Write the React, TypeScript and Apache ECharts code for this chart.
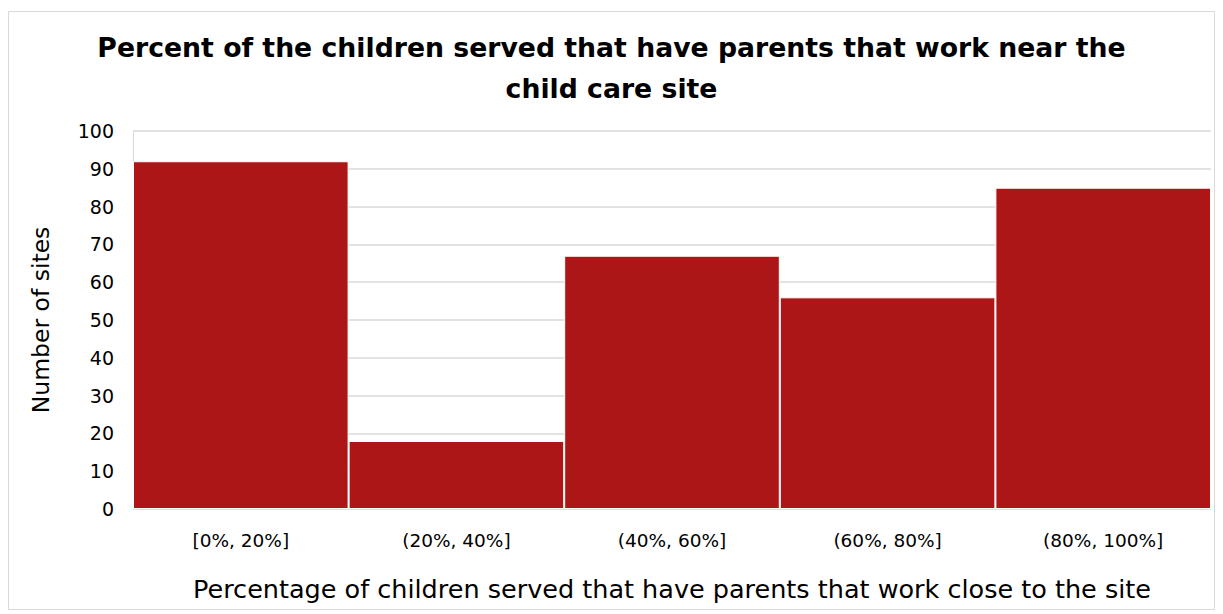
import React, { useEffect, useRef } from "react";
import * as echarts from "echarts";

const categories = ["[0%, 20%]", "(20%, 40%]", "(40%, 60%]", "(60%, 80%]", "(80%, 100%]"];
const siteCounts = [92, 18, 67, 56, 85];
const titleText = "Percent of the children served that have parents that work near the\nchild care site";
const xAxisName = "Percentage of children served that have parents that work close to the site";
const yAxisName = "Number of sites";

const FONT = "'DejaVu Sans', sans-serif";

export default function App() {
  const ref = useRef<HTMLDivElement>(null);
  useEffect(() => {
    document.body.style.margin = "0";
    const chart = echarts.init(ref.current!, null, { renderer: "svg" });
    chart.setOption({
      animation: false,
      backgroundColor: "#ffffff",
      graphic: [
        {
          type: "rect",
          shape: { x: 8.5, y: 11.5, width: 1206, height: 598 },
          style: { fill: "none", stroke: "#d9d9d9", lineWidth: 1 },
          silent: true,
        },
      ],
      title: {
        text: titleText,
        left: "center",
        top: 22,
        textStyle: { fontFamily: FONT, fontWeight: "bold", fontSize: 26.7, color: "#000", lineHeight: 41 },
      },
      grid: { left: 133, right: 12, top: 131, bottom: 105, outerBoundsMode: "none", containLabel: false },
      xAxis: {
        type: "category",
        data: categories,
        name: xAxisName,
        nameLocation: "middle",
        nameGap: 67,
        nameTextStyle: { fontFamily: FONT, fontSize: 25.5, color: "#000" },
        axisTick: { show: false },
        axisLine: { show: false },
        axisLabel: { fontFamily: FONT, fontSize: 18.5, color: "#000", margin: 22 },
      },
      yAxis: {
        type: "value",
        min: 0,
        max: 100,
        interval: 10,
        name: yAxisName,
        nameLocation: "middle",
        nameGap: 80,
        nameTextStyle: { fontFamily: FONT, fontSize: 23.5, color: "#000" },
        axisLine: { show: true, lineStyle: { color: "#d9d9d9" } },
        axisTick: { show: false },
        axisLabel: { fontFamily: FONT, fontSize: 19, color: "#000", margin: 19 },
        splitLine: { lineStyle: { color: "#d9d9d9", width: 1.5 } },
      },
      series: [
        {
          type: "bar",
          data: siteCounts,
          barCategoryGap: "0%",
          itemStyle: { color: "#ac1616", borderColor: "#ffffff", borderWidth: 1 },
        },
      ],
    });
    return () => chart.dispose();
  }, []);
  return <div ref={ref} style={{ width: 1223, height: 614 }} />;
}
